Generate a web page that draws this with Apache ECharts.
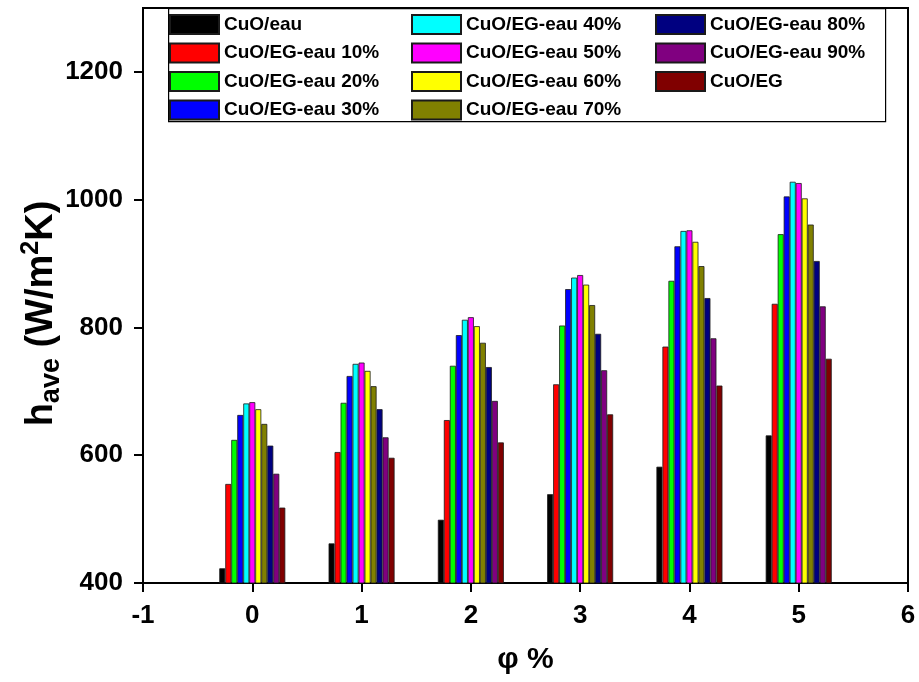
<!DOCTYPE html>
<html>
<head>
<meta charset="utf-8">
<script src="https://cdn.jsdelivr.net/npm/echarts@6/dist/echarts.min.js"></script>
<style>
html,body{margin:0;padding:0;background:#fff;}
#chart{width:919px;height:682px;}
</style>
</head>
<body>
<div id="chart"></div>
<script>
// x positions (phi %)
const phi = [0, 1, 2, 3, 4, 5];
const xTicks = [-1, 0, 1, 2, 3, 4, 5, 6];
const yTicks = [400, 600, 800, 1000, 1200];

const seriesNames = [
  'CuO/eau', 'CuO/EG-eau 10%', 'CuO/EG-eau 20%', 'CuO/EG-eau 30%',
  'CuO/EG-eau 40%', 'CuO/EG-eau 50%', 'CuO/EG-eau 60%', 'CuO/EG-eau 70%',
  'CuO/EG-eau 80%', 'CuO/EG-eau 90%', 'CuO/EG'
];
const colors = ['#000000', '#ff0000', '#00ff00', '#0000ff', '#00ffff', '#ff00ff',
  '#ffff00', '#808000', '#000080', '#800080', '#800000'];

const cuoEau   = [423, 462, 499, 539, 582, 631];
const eg10     = [555, 605, 655, 711, 770, 837];
const eg20     = [624, 682, 740, 803, 873, 946];
const eg30     = [663, 724, 788, 860, 927, 1005];
const eg40     = [681, 743, 812, 878, 951, 1028];
const eg50     = [683, 745, 816, 882, 952, 1026];
const eg60     = [672, 732, 802, 867, 934, 1002];
const eg70     = [649, 708, 776, 835, 896, 961];
const eg80     = [615, 672, 738, 790, 846, 904];
const eg90     = [571, 628, 685, 733, 783, 833];
const cuoEG    = [518, 596, 620, 664, 709, 751];

const allValues = [cuoEau, eg10, eg20, eg30, eg40, eg50, eg60, eg70, eg80, eg90, cuoEG];

const chart = echarts.init(document.getElementById('chart'), null, {renderer: 'canvas'});

const series = seriesNames.map((name, i) => ({
  name: name,
  type: 'bar',
  data: phi.map((p, j) => [p, allValues[i][j]]),
  barWidth: 6,
  barGap: '0%',
  itemStyle: {color: colors[i], borderColor: '#1a1a1a', borderWidth: 0.8},
  emphasis: {disabled: true},
  animation: false
}));

const FONT = 'Liberation Sans, Arial, sans-serif';
const legendText = {fontFamily: FONT, fontWeight: 'bold', fontSize: 19, color: '#000'};
function mkLegend(names, left) {
  return {
    data: names.map(n => ({name: n, icon: 'rect'})),
    orient: 'vertical',
    left: left,
    top: 14,
    itemWidth: 49,
    itemHeight: 19,
    itemGap: 7.5,
    padding: 0,
    selectedMode: false,
    textStyle: legendText
  };
}

const option = {
  backgroundColor: '#fff',
  animation: false,
  color: colors,
  grid: {
    left: 143, right: 11, top: 8, bottom: 99,
    show: true, borderColor: '#000', borderWidth: 2, backgroundColor: 'transparent'
  },
  legend: [
    mkLegend(seriesNames.slice(0, 4), 169),
    mkLegend(seriesNames.slice(4, 8), 411),
    mkLegend(seriesNames.slice(8, 11), 655)
  ],
  graphic: [{
    type: 'rect', left: 168, top: 8, z: 0,
    shape: {width: 717, height: 113},
    style: {fill: 'transparent', stroke: '#000', lineWidth: 1.2}
  }],
  xAxis: {
    type: 'value', min: -1, max: 6, interval: 1,
    name: 'φ %', nameLocation: 'middle', nameGap: 62,
    nameTextStyle: {fontFamily: FONT, fontWeight: 'bold', fontSize: 30, color: '#000'},
    axisLine: {show: true, onZero: false, lineStyle: {color: '#000', width: 2}},
    axisTick: {show: true, inside: false, length: 9, lineStyle: {color: '#000', width: 2}, customValues: xTicks},
    axisLabel: {margin: 20, fontFamily: FONT, fontWeight: 'bold', fontSize: 26, color: '#000', customValues: xTicks,
      formatter: v => String(v)},
    splitLine: {show: false}
  },
  yAxis: {
    type: 'value', min: 400, max: 1300, interval: 200,
    name: '{m|h}{sub|ave}{m| (W/m}{sup|2}{m|K)}',
    nameLocation: 'middle', nameRotate: 90, nameGap: 78,
    nameMoveOverlap: false,
    nameTextStyle: {
      padding: [0, 36, 0, 0],
      rich: {
        m: {fontFamily: FONT, fontWeight: 'bold', fontSize: 38, lineHeight: 46, color: '#000', verticalAlign: 'middle'},
        sub: {fontFamily: FONT, fontWeight: 'bold', fontSize: 27, lineHeight: 26, color: '#000', verticalAlign: 'bottom'},
        sup: {fontFamily: FONT, fontWeight: 'bold', fontSize: 25, lineHeight: 24, color: '#000', verticalAlign: 'top'}
      }
    },
    axisLine: {show: true, onZero: false, lineStyle: {color: '#000', width: 2}},
    axisTick: {show: true, inside: false, length: 9, lineStyle: {color: '#000', width: 2}, customValues: yTicks},
    axisLabel: {margin: 20, fontFamily: FONT, fontWeight: 'bold', fontSize: 26, color: '#000', customValues: yTicks,
      formatter: v => String(v)},
    splitLine: {show: false}
  },
  series: series
};
chart.setOption(option);
</script>
</body>
</html>
